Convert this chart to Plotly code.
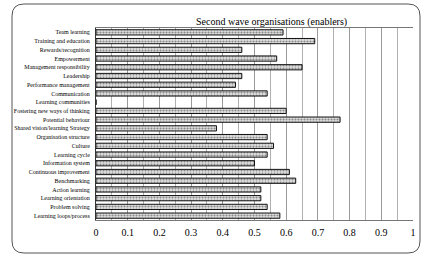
import plotly.graph_objects as go

categories = [
    "Team learning", "Training and education", "Rewards/recognition", "Empowerment",
    "Management responsibility", "Leadership", "Performance management", "Communication",
    "Learning communities", "Fostering new ways of thinking", "Potential behaviour",
    "Shared vision/learning Strategy", "Organisation structure", "Culture", "Learning cycle",
    "Information system", "Continuous improvement", "Benchmarking", "Action learning",
    "Learning orientation", "Problem solving", "Learning loops/process",
]
values = [0.59, 0.69, 0.46, 0.57, 0.65, 0.46, 0.44, 0.54, 0.0, 0.60, 0.77, 0.38,
          0.54, 0.56, 0.54, 0.50, 0.61, 0.63, 0.52, 0.52, 0.54, 0.58]
x_ticks = [0, 0.1, 0.2, 0.3, 0.4, 0.5, 0.6, 0.7, 0.8, 0.9, 1]
x_tick_labels = ["0", "0.1", "0.2", "0.3", "0.4", "0.5", "0.6", "0.7", "0.8", "0.9", "1"]
title = "Second wave organisations (enablers)"

SERIF = "Liberation Serif, Times New Roman, DejaVu Serif, serif"
W, H = 424, 257
L, R, T, B = 96, 11, 28, 37
pw, ph = W - L - R, H - T - B

def px2x(px):
    return (px - L) / pw

def py2y(py):
    return (H - B - py) / ph

fig = go.Figure(go.Bar(
    x=values, y=categories, orientation="h", width=0.6,
    marker=dict(color="#e0e0e0", line=dict(color="#111", width=1),
                pattern=dict(shape=".", fgcolor="#333", size=3, solidity=0.4)),
    showlegend=False,
))

# rounded border box
x0, x1 = px2x(12), px2x(420)
y0, y1 = py2y(253), py2y(4)
rx, ry = 12 / pw, 12 / ph
path = (f"M {x0+rx},{y1} L {x1-rx},{y1} Q {x1},{y1} {x1},{y1-ry} "
        f"L {x1},{y0+ry} Q {x1},{y0} {x1-rx},{y0} L {x0+rx},{y0} "
        f"Q {x0},{y0} {x0},{y0+ry} L {x0},{y1-ry} Q {x0},{y1} {x0+rx},{y1} Z")
fig.add_shape(type="path", path=path, xref="paper", yref="paper",
              line=dict(color="#555", width=1))

fig.add_annotation(text=title, x=px2x(271), y=py2y(14), xref="paper", yref="paper",
                   showarrow=False, font=dict(family=SERIF, size=10, color="#000"))

fig.update_layout(
    width=W, height=H, margin=dict(l=L, r=R, t=T, b=B, autoexpand=False),
    paper_bgcolor="white", plot_bgcolor="white",
    xaxis=dict(range=[0, 1], tickvals=x_ticks, ticktext=x_tick_labels,
               showgrid=True, gridcolor="#9a9a9a", gridwidth=1,
               minor=dict(dtick=0.05, showgrid=True, gridcolor="#b0b0b0", gridwidth=1),
               showline=True, linecolor="#777", mirror=True, zeroline=False,
               ticklabelstandoff=3, automargin=False,
               tickfont=dict(family=SERIF, size=10, color="#000")),
    yaxis=dict(autorange="reversed", showgrid=False, showline=True, linecolor="#333",
               tickmode="array", tickvals=categories, ticktext=categories,
               ticks="", ticklabelstandoff=4, automargin=False,
               tickfont=dict(family=SERIF, size=6, color="#000")),
)

fig.write_html("out.html")
